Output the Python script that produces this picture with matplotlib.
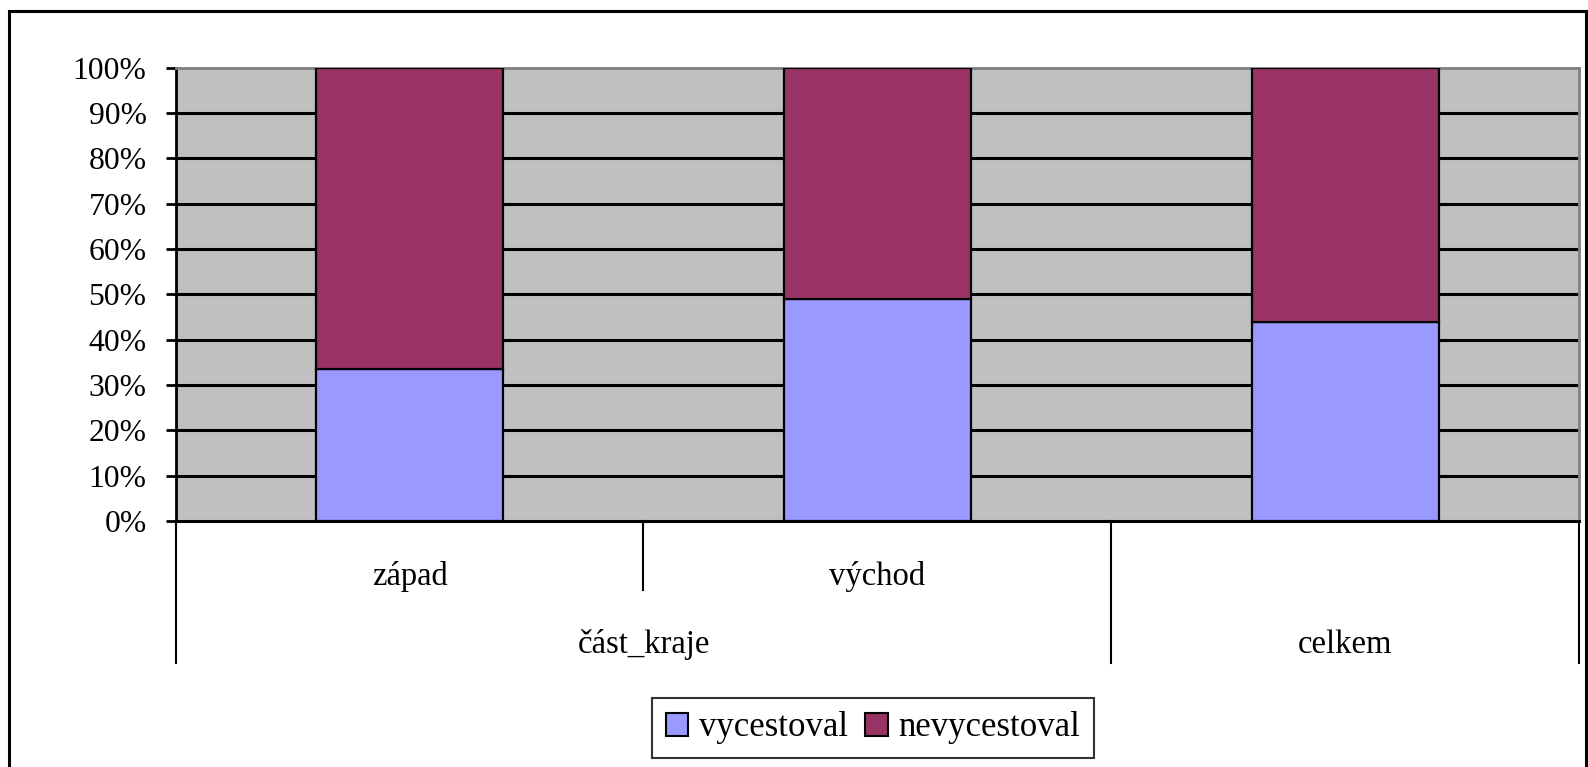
import matplotlib
matplotlib.use("Agg")
import matplotlib.pyplot as plt
from matplotlib.patches import Rectangle, Patch
from matplotlib.transforms import blended_transform_factory
import numpy as np

plt.rcParams['font.family'] = ['Liberation Serif', 'DejaVu Serif']

# Data
categories = ['západ', 'východ', 'celkem']
groups = ['část_kraje', 'celkem']
vycestoval = [33.5, 49.0, 43.8]
nevycestoval = [66.5, 51.0, 56.2]
series_names = ['vycestoval', 'nevycestoval']
colors = ['#9999FF', '#993366']
yticks = [0, 10, 20, 30, 40, 50, 60, 70, 80, 90, 100]

W, H = 1588, 767
fig = plt.figure(figsize=(W / 100, H / 100), dpi=100)

def fx(px):
    return px / W

def fy(py):
    return 1 - py / H

# outer border
fig.patches.append(Rectangle((fx(9), -0.05), fx(1586) - fx(9), fy(11) + 0.05,
                             transform=fig.transFigure, fill=False,
                             edgecolor='black', linewidth=2.2, zorder=0))

left, right, top, bottom = 175.7, 1579, 67.7, 521
ax = fig.add_axes([fx(left), fy(bottom), fx(right) - fx(left), fy(top) - fy(bottom)])
ax.set_facecolor('#C0C0C0')

x = np.arange(len(categories))
ax.bar(x, vycestoval, width=0.4, color=colors[0], edgecolor='black', linewidth=1.6, zorder=3)
ax.bar(x, nevycestoval, bottom=vycestoval, width=0.4, color=colors[1], edgecolor='black',
       linewidth=1.6, zorder=3)

ax.set_xlim(-0.5, len(categories) - 0.5)
ax.set_ylim(0, 100)
ax.set_yticks(yticks)
ax.set_yticklabels([f'{t}%' for t in yticks], fontsize=22.8)
ax.set_xticks([])
for t in yticks[1:-1]:
    ax.axhline(t, color='black', linewidth=2.2, zorder=2)

ax.tick_params(axis='y', direction='out', length=7, width=2, pad=14)
ax.spines['left'].set_color('black')
ax.spines['left'].set_linewidth(2)
ax.spines['bottom'].set_color('black')
ax.spines['bottom'].set_linewidth(2.2)
ax.spines['top'].set_color('#808080')
ax.spines['top'].set_linewidth(2)
ax.spines['right'].set_color('#808080')
ax.spines['right'].set_linewidth(2)

# multi-level category axis
trans = blended_transform_factory(ax.transData, fig.transFigure)
long_b = fy(663)
short_b = fy(590)
y0 = fy(bottom)
for xb in [-0.5, 1.5, 2.5]:
    ax.plot([xb, xb], [y0, long_b], transform=trans, color='black', linewidth=1.5, clip_on=False)
ax.plot([0.5, 0.5], [y0, short_b], transform=trans, color='black', linewidth=1.5, clip_on=False)

for i, c in enumerate(categories[:2]):
    ax.text(i, fy(576), c, transform=trans, ha='center', va='center', fontsize=23.5)
ax.text(0.5, fy(645), groups[0], transform=trans, ha='center', va='center', fontsize=23.5)
ax.text(2, fy(645), groups[1], transform=trans, ha='center', va='center', fontsize=23.5)

handles = [Patch(facecolor=colors[i], edgecolor='black', linewidth=1.5, label=series_names[i])
           for i in range(2)]
leg = fig.legend(handles=handles, loc='center', bbox_to_anchor=(fx(873), fy(728)), ncol=2,
                 fontsize=25, frameon=True, fancybox=False, edgecolor='black',
                 handlelength=0.65, handleheight=0.65, handletextpad=0.3, columnspacing=0.5,
                 borderpad=0.4, borderaxespad=0)
leg.get_frame().set_linewidth(1.5)

fig.savefig('out.png', dpi=100)
